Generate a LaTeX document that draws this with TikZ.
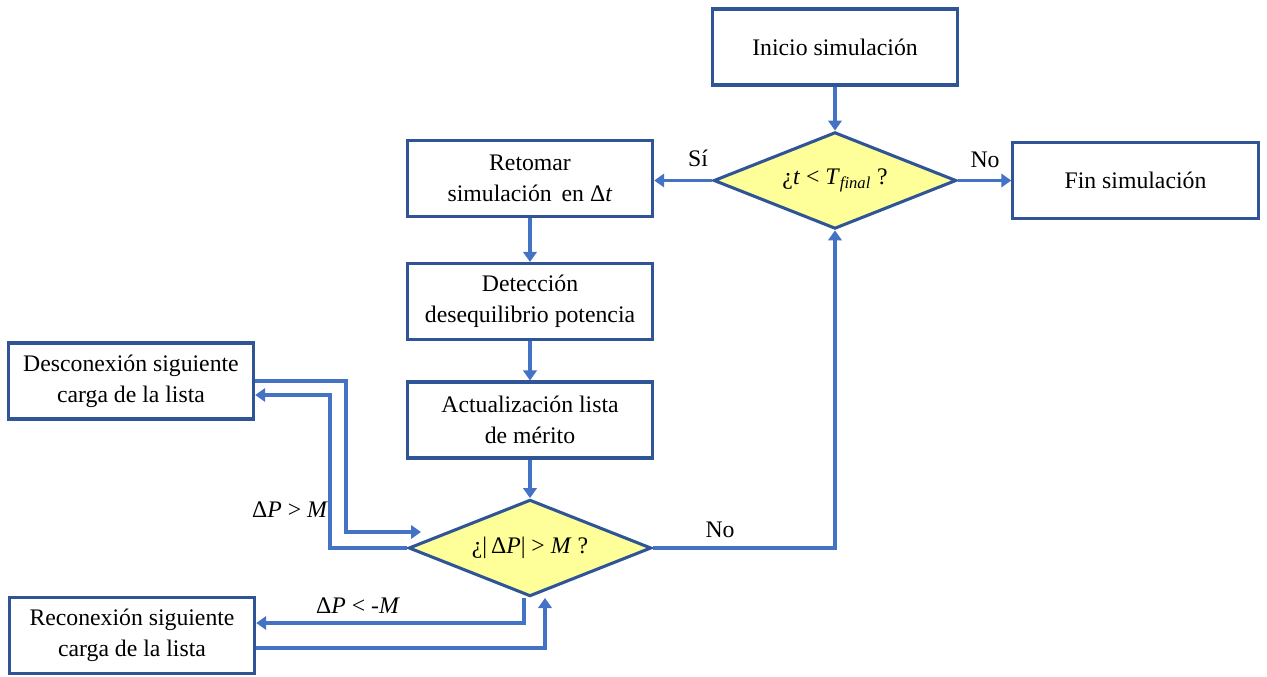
\documentclass[tikz,border=0pt]{standalone}
\usepackage{fontspec}
\setmainfont{Liberation Serif}
\usetikzlibrary{shapes.geometric,arrows.meta,calc}
\definecolor{boxblue}{HTML}{2F5597}
\definecolor{arrblue}{HTML}{4472C4}
\definecolor{dyellow}{HTML}{FFFF99}
\tikzset{
  flowbox/.style={draw=boxblue, line width=2.3pt, fill=white, minimum width=184pt, minimum height=57pt, inner sep=0pt, align=center, font=\fontsize{17.8}{23.5}\selectfont},
  decision/.style={diamond, draw=boxblue, line width=2.3pt, fill=dyellow, minimum width=182pt, minimum height=72.5pt, shape aspect=2.5, inner sep=0pt, align=center, font=\fontsize{17.8}{23.5}\selectfont},
  arr/.style={draw=arrblue, line width=2.6pt, -{Triangle[width=10pt,length=7.5pt]}},
  lbl/.style={font=\fontsize{17.8}{23.5}\selectfont, inner sep=1pt}
}
\begin{document}
\begin{tikzpicture}[x=0.75pt,y=-0.75pt]
\useasboundingbox (0,0) rectangle (1267,677);
\node[flowbox] (ini) at (835,47) {Inicio simulación};
\node[decision] (d1) at (835,180.5) {¿\textit{t} < \textit{T}\textsubscript{\textit{final}} ?};
\node[flowbox] (fin) at (1135.5,180.5) {Fin simulación};
\node[flowbox] (ret) at (530,178.5) {Retomar\\simulación\, en Δ\textit{t}};
\node[flowbox] (det) at (530,301.5) {Detección\\desequilibrio potencia};
\node[flowbox] (act) at (530,420) {Actualización lista\\de mérito};
\node[decision] (d2) at (530,548) {¿|\,Δ\textit{P}| > \textit{M} ?};
\node[flowbox] (des) at (131,381) {Desconexión siguiente\\carga de la lista};
\node[flowbox] (rec) at (132,635.5) {Reconexión siguiente\\carga de la lista};

\coordinate (a1) at (421,532);
\coordinate (a2) at (545,598);

\draw[arr] (ini.south) -- (d1.north);
\draw[arr] (d1.west) -- (d1.west -| ret.east);
\draw[arr] (d1.east) -- (d1.east -| fin.west);
\draw[arr] (ret.south) -- (det.north);
\draw[arr] (det.south) -- (act.north);
\draw[arr] (act.south) -- (d2.north);
\draw[arr] (d2.east) -| (d1.south);
\draw[arr] (des.east) -- (346,381) |- (a1);
\draw[arr] (d2.west) -- (330,548) |- ($(des.east)+(0,14)$);
\draw[arr] ($(d2.south)+(-6,0)$) |- ($(rec.east)+(0,-12.5)$);
\draw[arr] ($(rec.east)+(0,12.5)$) -| (a2);

\node[lbl] (si) at (698,158) {Sí};
\node[lbl] (no1) at (985,160) {No};
\node[lbl] (no2) at (720,530) {No};
\node[lbl] (gt) at (290,510) {Δ\textit{P} > \textit{M}};
\node[lbl] (lt) at (358,606) {Δ\textit{P} < -\textit{M}};
\end{tikzpicture}
\end{document}
